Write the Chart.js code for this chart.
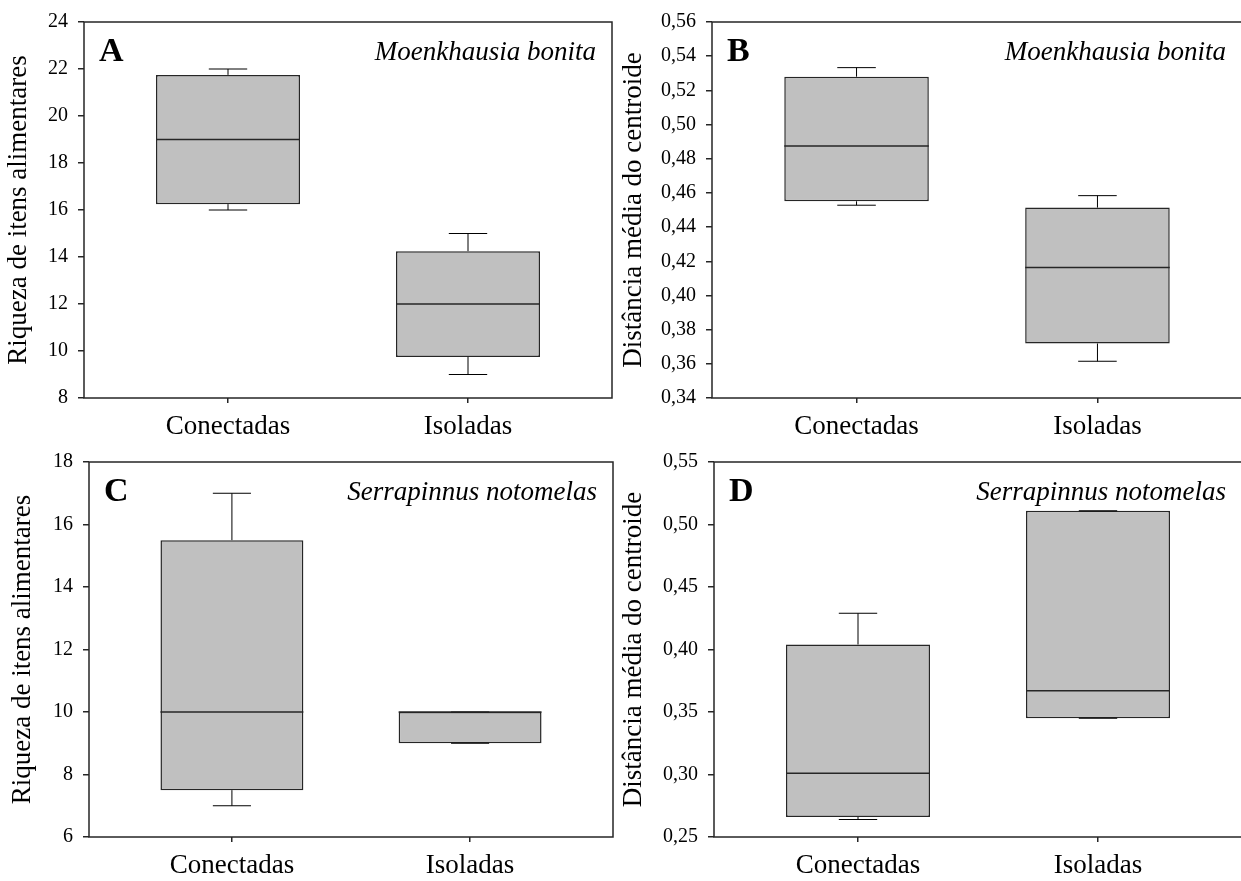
<!DOCTYPE html>
<html>
<head>
<meta charset="utf-8">
<script src="https://cdn.jsdelivr.net/npm/chart.js@4/dist/chart.umd.min.js"></script>
<style>
  html, body { margin: 0; padding: 0; background: #fff; overflow: hidden; }
  canvas { position: absolute; }
</style>
</head>
<body>
<canvas id="chartA" style="left:0px;top:0px" width="620" height="440"></canvas>
<canvas id="chartB" style="left:610px;top:0px" width="640" height="440"></canvas>
<canvas id="chartC" style="left:0px;top:440px" width="620" height="441"></canvas>
<canvas id="chartD" style="left:610px;top:440px" width="640" height="441"></canvas>
<script>
/* ===============================
   Data
================================ */
const groups = ["Conectadas", "Isoladas"];
const groupPos = [1, 2];

// A: Moenkhausia bonita, riqueza de itens
const richBonitaMin = [16, 9];
const richBonitaQ1 = [16.25, 9.75];
const richBonitaMedian = [19, 12];
const richBonitaQ3 = [21.75, 14.25];
const richBonitaMax = [22, 15];
const richBonitaAxis = [8, 24, 2]; // min, max, step

// B: Moenkhausia bonita, distancia ao centroide
const distBonitaMin = [0.4528, 0.3615];
const distBonitaQ1 = [0.4551, 0.3719];
const distBonitaMedian = [0.4874, 0.4163];
const distBonitaQ3 = [0.528, 0.4514];
const distBonitaMax = [0.5333, 0.4584];
const distBonitaAxis = [0.34, 0.56, 0.02];

// C: Serrapinnus notomelas, riqueza de itens
const richNotoMin = [7, 9];
const richNotoQ1 = [7.5, 9];
const richNotoMedian = [10, 10];
const richNotoQ3 = [15.5, 10];
const richNotoMax = [17, 10];
const richNotoAxis = [6, 18, 2];

// D: Serrapinnus notomelas, distancia ao centroide
const distNotoMin = [0.264, 0.345];
const distNotoQ1 = [0.266, 0.345];
const distNotoMedian = [0.301, 0.367];
const distNotoQ3 = [0.404, 0.511];
const distNotoMax = [0.429, 0.511];
const distNotoAxis = [0.25, 0.55, 0.05];

const FONT = "'Liberation Serif', 'Times New Roman', serif";
const LINE = "#262626";

/* ===============================
   Box plot built from a floating bar
   + whiskers/median via plugin
================================ */
function boxChart(id, d, look) {
  const ctx = document.getElementById(id);
  const boxHalf = 0.3;
  const capHalf = 0.08;

  const extras = {
    id: "boxExtras",
    afterDatasetsDraw(chart) {
      const c = chart.ctx;
      const xs = chart.scales.x;
      const ys = chart.scales.y;
      c.save();
      c.strokeStyle = "#000";
      c.lineWidth = 1;
      groupPos.forEach((p, i) => {
        const x = xs.getPixelForValue(p);
        const xl = xs.getPixelForValue(p - capHalf);
        const xr = xs.getPixelForValue(p + capHalf);
        const yMax = ys.getPixelForValue(d.max[i]);
        const yMin = ys.getPixelForValue(d.min[i]);
        const yQ3 = ys.getPixelForValue(d.q3[i]);
        const yQ1 = ys.getPixelForValue(d.q1[i]);
        c.beginPath();
        c.moveTo(x, yQ3); c.lineTo(x, yMax);
        c.moveTo(x, yQ1); c.lineTo(x, yMin);
        c.moveTo(xl, yMax); c.lineTo(xr, yMax);
        c.moveTo(xl, yMin); c.lineTo(xr, yMin);
        c.stroke();
      });
      // medians
      c.strokeStyle = LINE;
      c.lineWidth = 1.5;
      groupPos.forEach((p, i) => {
        const y = ys.getPixelForValue(d.median[i]);
        c.beginPath();
        c.moveTo(xs.getPixelForValue(p - boxHalf), y);
        c.lineTo(xs.getPixelForValue(p + boxHalf), y);
        c.stroke();
      });
      c.restore();
    },
    afterDraw(chart) {
      const c = chart.ctx;
      const a = chart.chartArea;
      c.save();
      // frame round the plot
      c.strokeStyle = LINE;
      c.lineWidth = 1.5;
      c.strokeRect(a.left, a.top, a.right - a.left, a.bottom - a.top);
      // panel letter
      c.fillStyle = "#000";
      c.textBaseline = "alphabetic";
      c.textAlign = "left";
      c.font = "bold 34px " + FONT;
      c.fillText(d.letter, a.left + 15, a.top + 39);
      // species name
      c.textAlign = "right";
      c.font = "italic 27px " + FONT;
      c.fillText(d.species, a.right - 16, a.top + 38);
      c.restore();
    }
  };

  new Chart(ctx, {
    type: "bar",
    data: {
      datasets: [
        {
          data: groupPos.map((p, i) => ({ x: p, y: [d.q1[i], d.q3[i]] })),
          backgroundColor: "#c0c0c0",
          borderColor: LINE,
          borderWidth: 1.5,
          borderSkipped: false,
          categoryPercentage: 1,
          barPercentage: 0.6,
        },
      ],
    },
    options: {
      responsive: false,
      devicePixelRatio: 1,
      animation: false,
      layout: { padding: { top: look.padTop, right: look.padRight, bottom: 0, left: 0 } },
      plugins: {
        legend: { display: false },
        tooltip: { enabled: false },
      },
      scales: {
        x: {
          type: "linear",
          min: 0.4,
          max: 2.6,
          offset: false,
          afterBuildTicks: (s) => { s.ticks = groupPos.map((v) => ({ value: v })); },
          afterFit: (s) => { s.height = look.xHeight; },
          grid: { offset: false, drawOnChartArea: false, tickLength: 5, color: LINE, lineWidth: 1.5 },
          border: { display: false },
          ticks: {
            padding: 8,
            color: "#000",
            font: { family: FONT, size: 27 },
            maxRotation: 0,
            callback: (v) => {
              const k = groupPos.indexOf(v);
              return k >= 0 ? groups[k] : "";
            },
          },
        },
        y: {
          min: d.axis[0],
          max: d.axis[1],
          afterFit: (s) => { s.width = look.yWidth; },
          grid: { drawOnChartArea: false, tickLength: 6, color: LINE, lineWidth: 1.5 },
          border: { display: false },
          ticks: {
            stepSize: d.axis[2],
            padding: 10,
            color: "#000",
            font: { family: FONT, size: 20 },
            callback: (v) => d.decimals ? Number(v).toFixed(d.decimals).replace(".", ",") : String(Math.round(v)),
          },
          title: {
            display: true,
            text: d.title,
            color: "#000",
            font: { family: FONT, size: 27 },
            padding: { top: look.titlePad, bottom: 0 },
          },
        },
      },
    },
    plugins: [extras],
  });
}

boxChart("chartA", {
  letter: "A", species: "Moenkhausia bonita", title: "Riqueza de itens alimentares",
  min: richBonitaMin, q1: richBonitaQ1, median: richBonitaMedian, q3: richBonitaQ3, max: richBonitaMax,
  axis: richBonitaAxis, decimals: 0,
}, { padTop: 18, padRight: 8, yWidth: 84, xHeight: 42, titlePad: 3 });

boxChart("chartB", {
  letter: "B", species: "Moenkhausia bonita", title: "Distância média do centroide",
  min: distBonitaMin, q1: distBonitaQ1, median: distBonitaMedian, q3: distBonitaQ3, max: distBonitaMax,
  axis: distBonitaAxis, decimals: 2,
}, { padTop: 16, padRight: 8, yWidth: 102, xHeight: 42, titlePad: 8 });

boxChart("chartC", {
  letter: "C", species: "Serrapinnus notomelas", title: "Riqueza de itens alimentares",
  min: richNotoMin, q1: richNotoQ1, median: richNotoMedian, q3: richNotoQ3, max: richNotoMax,
  axis: richNotoAxis, decimals: 0,
}, { padTop: 18, padRight: 7, yWidth: 89, xHeight: 44, titlePad: 7 });

boxChart("chartD", {
  letter: "D", species: "Serrapinnus notomelas", title: "Distância média do centroide",
  min: distNotoMin, q1: distNotoQ1, median: distNotoMedian, q3: distNotoQ3, max: distNotoMax,
  axis: distNotoAxis, decimals: 2,
}, { padTop: 17, padRight: 8, yWidth: 104, xHeight: 44, titlePad: 8 });
</script>
</body>
</html>
